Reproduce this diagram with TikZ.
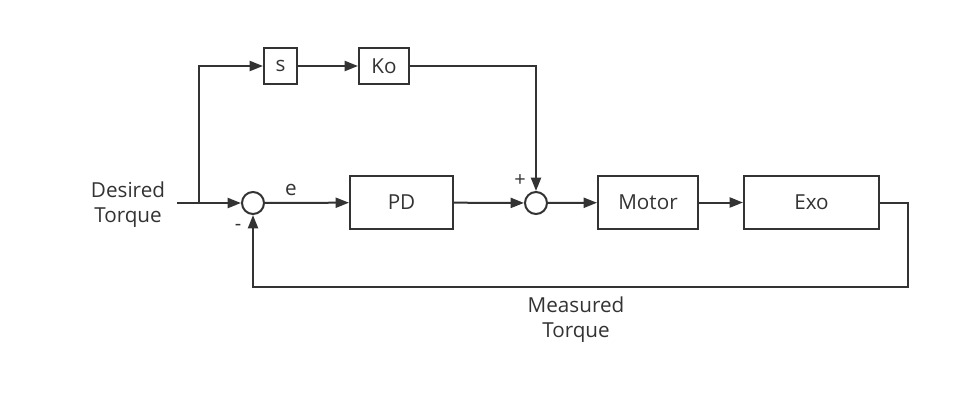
\documentclass[tikz,border=0pt]{standalone}
\usepackage{fontspec}
\setmainfont{Open Sans}
\usetikzlibrary{arrows.meta}
\definecolor{ink}{HTML}{333333}
\begin{document}
\begin{tikzpicture}[x=0.75pt,y=-0.75pt,
  every node/.style={font=\fontsize{15.5}{18.75}\selectfont, text=ink},
  blk/.style={draw=ink, line width=1.5pt, rectangle, inner sep=0pt, anchor=center},
  sumc/.style={draw=ink, line width=1.5pt, circle, minimum size=16.5pt, inner sep=0pt},
  wire/.style={draw=ink, line width=1.5pt},
  arr/.style={wire, -{Triangle[length=10pt,width=7.5pt]}},
  lbl/.style={align=center, inner sep=0pt}]
\useasboundingbox (0,0) rectangle (970,400);
\node[blk, minimum width=24.75pt, minimum height=27pt] (s) at (280.5,66) {s};
\node[blk, minimum width=37.5pt, minimum height=27pt] (ko) at (384,66) {Ko};
\node[sumc] (sum1) at (253,203) {};
\node[blk, minimum width=77.25pt, minimum height=39.75pt] (pd) at (401.5,202.5) {PD};
\node[sumc] (sum2) at (536,203) {};
\node[blk, minimum width=75pt, minimum height=39.75pt] (motor) at (648,202.5) {Motor};
\node[blk, minimum width=101.25pt, minimum height=39.75pt] (exo) at (811.5,202.5) {Exo};
\node[lbl] (des) at (128,205) {Desired\\Torque};
\node[lbl] (meas) at (576,320) {Measured\\Torque};
\node[lbl] (e) at (291,190) {e};
\node[lbl, font=\fontsize{15}{17}\selectfont] (plus) at (520,181) {+};
\node[lbl, font=\fontsize{15}{17}\selectfont] (minus) at (238,227) {-};
\coordinate (in) at (177,203);
\coordinate (br) at (199,203);
\draw[arr] (in) -- (sum1);
\draw[arr] (br) |- (s);
\draw[arr] (s) -- (ko);
\draw[arr] (sum1) -- (pd);
\draw[arr] (ko.east) -| (sum2);
\draw[arr] (pd) -- (sum2);
\draw[arr] (sum2) -- (motor);
\draw[arr] (motor) -- (exo);
\coordinate (c1) at (908,203);
\coordinate (c2) at (908,287);
\draw[arr] (exo.east |- 0,203) -- (c1) -- (c2) -| (sum1);
\end{tikzpicture}
\end{document}
